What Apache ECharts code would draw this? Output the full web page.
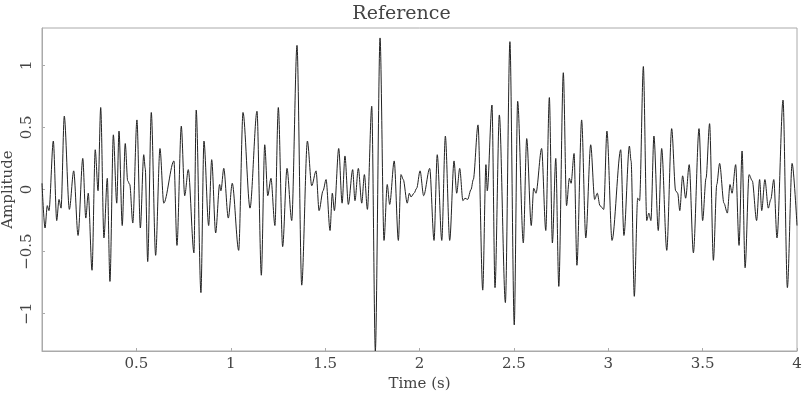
<!DOCTYPE html>
<html>
<head>
<meta charset="utf-8">
<script src="https://cdn.jsdelivr.net/npm/echarts@6/dist/echarts.min.js"></script>
<style>html,body{margin:0;padding:0;background:#fff}#c{width:803px;height:396px}</style>
</head>
<body>
<div id="c"></div>
<script>
var title = "Reference";
var xLabel = "Time (s)";
var yLabel = "Amplitude";
var yTicks = [-1, -0.5, 0, 0.5, 1];
var times = [0,0.016,0.028,0.037,0.060,0.078,0.090,0.101,0.118,0.145,0.168,0.191,0.216,0.232,0.245,0.265,0.282,0.297,0.311,0.328,0.346,0.360,0.378,0.396,0.408,
0.425,0.441,0.454,0.465,0.481,0.503,0.521,0.539,0.547,0.560,0.579,0.602,0.625,0.645,0.699,0.715,0.738,0.756,0.775,0.805,
0.817,0.842,0.858,0.883,0.899,0.920,0.941,0.948,0.963,0.987,1.008,1.042,1.065,1.102,1.139,1.162,1.180,1.196,
1.213,1.234,1.252,1.275,1.298,1.323,1.351,1.376,1.406,1.429,1.452,1.468,1.489,1.505,1.526,1.538,1.549,1.572,1.590,
1.605,1.623,1.646,1.658,1.676,1.694,1.708,1.724,1.747,1.766,1.791,1.812,1.829,1.842,1.866,1.888,1.902,1.914,1.935,1.946,1.955,1.971,1.985,2.003,
2.022,2.054,2.077,2.094,2.118,2.137,2.160,2.183,2.197,2.213,2.230,2.241,2.255,2.273,2.285,2.310,2.335,2.352,2.359,2.384,2.400,
2.423,2.455,2.479,2.502,2.520,2.550,2.568,2.592,2.605,2.617,2.647,2.669,2.688,2.704,2.722,2.738,2.762,2.779,
2.794,2.803,2.819,2.834,2.859,2.881,2.907,2.928,2.942,2.956,2.976,2.993,3.020,3.066,3.083,3.112,3.121,3.138,3.156,3.166,3.186,
3.204,3.215,3.226,3.242,3.265,3.283,3.310,3.336,3.357,3.368,3.379,3.394,3.410,3.429,3.451,3.481,3.500,3.518,3.537,3.557,3.575,
3.590,3.613,3.631,3.645,3.656,3.675,3.693,3.709,3.725,3.746,3.763,3.786,3.802,3.813,3.830,3.848,3.861,3.877,3.894,3.926,3.949,3.974,4.000];
var amplitudes = [0.05,-0.31,-0.13,-0.17,0.39,-0.25,-0.08,-0.15,0.59,-0.16,0.15,-0.37,0.25,-0.23,-0.03,-0.65,0.32,-0.01,0.66,-0.39,0.09,-0.74,0.44,-0.11,0.47,
-0.29,0.37,0.07,0.04,-0.27,0.56,-0.31,0.28,0.17,-0.58,0.62,-0.53,0.33,-0.11,0.23,-0.45,0.51,-0.05,0.16,-0.51,
0.64,-0.83,0.39,-0.29,0.24,-0.35,0.04,-0.01,0.17,-0.23,0.05,-0.49,0.62,-0.15,0.63,-0.69,0.36,-0.05,
0.09,-0.29,0.66,-0.46,0.17,-0.25,1.16,-0.77,0.39,0.03,0.15,-0.17,-0.01,0.08,-0.33,-0.03,-0.17,0.33,-0.11,
0.27,-0.12,0.16,-0.09,0.17,-0.11,0.12,-0.16,0.67,-1.30,1.22,-0.41,0.04,-0.12,0.23,-0.41,0.12,0.08,-0.11,-0.03,-0.06,-0.03,0.01,0.15,
-0.05,0.17,-0.41,0.28,-0.41,0.43,-0.41,0.23,-0.03,0.17,-0.09,-0.07,-0.08,0.00,0.08,0.52,-0.81,0.20,-0.01,0.68,-0.79,
0.60,-0.91,1.19,-1.09,0.71,-0.43,0.41,-0.29,0.01,-0.03,0.33,-0.33,0.74,-0.43,0.25,-0.78,0.94,-0.13,
0.09,0.05,0.29,-0.61,0.56,-0.39,0.36,-0.08,-0.03,-0.13,-0.16,0.47,-0.41,0.32,-0.37,0.35,0.23,-0.86,-0.07,-0.09,0.99,
-0.25,-0.19,-0.25,0.43,-0.33,0.33,-0.49,0.49,-0.01,-0.03,-0.17,0.11,-0.07,0.20,-0.51,0.49,-0.25,0.09,0.53,-0.57,0.04,
0.21,-0.11,-0.19,0.04,-0.03,0.20,-0.45,0.31,-0.63,0.12,0.07,-0.25,0.08,-0.17,0.08,-0.15,-0.08,0.08,-0.39,0.72,-0.79,0.21,-0.29];

var seriesData = times.map(function (t, i) { return [t, amplitudes[i]]; });
var font = "DejaVu Serif";
var txt = '#444';
var frame = '#aaa';
function minus(v) { return String(v).replace('-', '\u2212'); }
var chart = echarts.init(document.getElementById('c'), null, {renderer: 'canvas'});
chart.setOption({
  animation: false,
  backgroundColor: '#fff',
  title: {
    text: title, left: 'center', top: 0,
    textStyle: {fontFamily: font, fontSize: 19, fontWeight: 'normal', color: txt}
  },
  grid: {left: 42, right: 6, top: 28, bottom: 45, show: true, borderColor: frame, borderWidth: 1,
         containLabel: false, outerBoundsMode: 'none'},
  xAxis: {
    type: 'value', min: 0, max: 4, interval: 0.5,
    name: xLabel, nameLocation: 'middle', nameGap: 26, nameMoveOverlap: false,
    nameTextStyle: {fontFamily: font, fontSize: 15, color: txt},
    axisLine: {show: true, onZero: false, lineStyle: {color: frame}},
    axisTick: {show: true, inside: true, length: 3, lineStyle: {color: frame}},
    axisLabel: {showMinLabel: false, fontFamily: font, fontSize: 15, color: txt, margin: 6},
    splitLine: {show: false}
  },
  yAxis: {
    type: 'value', min: -1.3, max: 1.3,
    name: yLabel, nameLocation: 'middle', nameGap: 26, nameRotate: 90, nameMoveOverlap: false,
    nameTextStyle: {fontFamily: font, fontSize: 15, color: txt},
    axisLine: {show: true, lineStyle: {color: frame}},
    axisTick: {show: true, inside: true, length: 3, customValues: yTicks, lineStyle: {color: frame}},
    axisLabel: {customValues: yTicks, rotate: 90, fontFamily: font, fontSize: 15, color: txt, margin: 7,
                formatter: minus},
    splitLine: {show: false}
  },
  series: [{
    type: 'line', data: seriesData, showSymbol: false, symbol: 'none',
    smooth: 0.3, smoothMonotone: 'x',
    lineStyle: {color: '#222', width: 1}, clip: true
  }]
});
</script>
</body>
</html>
